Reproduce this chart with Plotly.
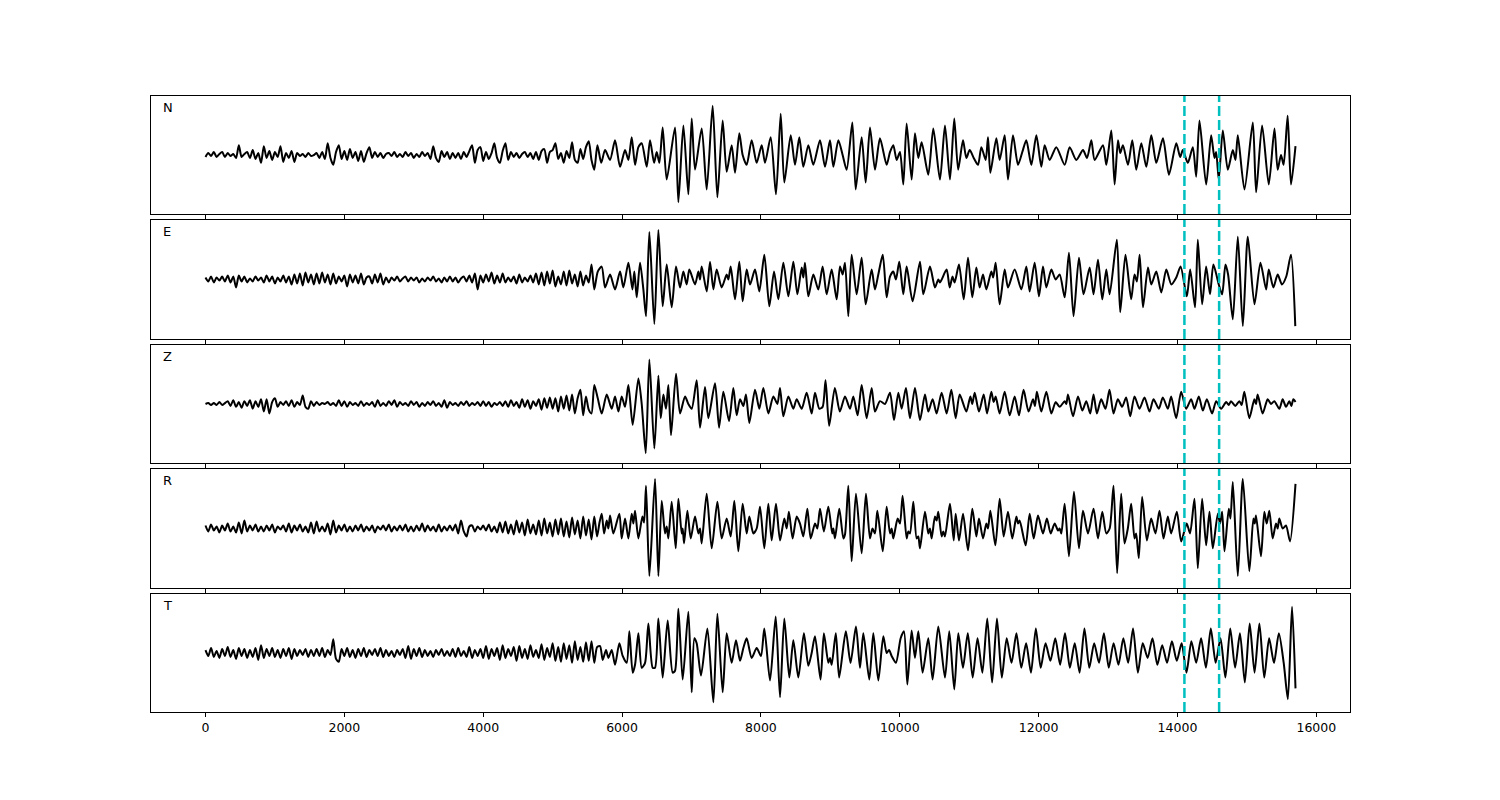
import numpy as np
import plotly.graph_objects as go

# ---------------- data ----------------
QUIET_DT = 40          # sample step of the quiet pre-event part
PICKS = [14100, 14600] # dashed phase markers
X_TICKS = [0, 2000, 4000, 6000, 8000, 10000, 12000, 14000, 16000]
CHANNELS = ["N", "E", "Z", "R", "T"]

N_quiet = [-2, 2, -1, 3, -2, 1, 3, -2, 2, -1,
           1, -3, 10, -2, 1, 3, -3, 5, -4, 2,
           -8, 9, -3, 4, -5, 3, -2, 9, -7, 2,
           -3, 4, -7, 2, -1, 1, -2, 2, -1, 0,
           2, -3, 3, -4, 12, -3, -10, 3, 10, -4,
           4, -5, 6, -3, 3, -6, 4, -7, 2, 8,
           -3, 3, -2, 2, -3, 1, 2, -1, 3, -2,
           1, -2, 3, -1, 2, -3, 1, -2, 3, -1,
           2, -4, 9, -3, -7, 4, -2, 3, -4, 2,
           -3, 2, -4, 3, -2, 4, 10, -8, 5, 8,
           -6, 3, -4, 2, 12, -3, -8, 4, 12, -5,
           3, -2, 2, -3, 1, 3, -2, 2, -4, 3,
           -5, 4, 6, -8, 3, 5, 12, -4, 2, -8,
           4, -3, 13, -5, -8, 6, -4, 8, 14, -5, -15]
N_t = [5645, 5700,
       5755, 5827, 5899, 5971, 6043, 6091, 6139, 6187, 6235, 6283,
       6355, 6403, 6461, 6499, 6537, 6585, 6643, 6763, 6811, 6883,
       6955, 7003, 7051, 7147, 7219, 7305, 7373, 7449, 7507, 7579,
       7627, 7689, 7737, 7795, 7867, 7939, 8011, 8059, 8141, 8217,
       8285, 8337, 8429, 8491, 8553, 8611, 8683, 8755, 8851, 8923,
       8995, 9043, 9115, 9177, 9235, 9317, 9365, 9451, 9509, 9571,
       9643, 9715, 9811, 9859, 9907, 9955, 10003, 10051, 10099, 10171,
       10219, 10267, 10315, 10411, 10483, 10579, 10651, 10723, 10785, 10841,
       10911, 10959, 11007, 11065, 11127, 11175, 11237, 11271, 11305, 11391,
       11439, 11511, 11559, 11631, 11703, 11765, 11823, 11895, 11967, 12039,
       12087, 12159, 12255, 12375, 12447, 12543, 12639, 12697, 12759, 12807,
       12927, 12975, 13047, 13095, 13143, 13175, 13215, 13287, 13349, 13407,
       13479, 13551, 13623, 13695, 13791, 13877, 13983, 14039, 14077, 14149,
       14221, 14269, 14317, 14413, 14485, 14533, 14557, 14595, 14653, 14725,
       14797, 14835, 14869, 14965, 15085, 15133, 15219, 15315, 15397, 15443,
       15491, 15529, 15587, 15635, 15700]
N_v = [10, -8,
       5, -5, 15, -12, 5, -5, 18, -10, 8, 12,
       -12, 15, -8, 3, -8, 28, -25, 28, -48, 30,
       -40, 37, -15, 27, -35, 50, -43, 35, -17, 10,
       -18, 22, 0, -10, 15, -8, 10, -8, 18, -40,
       42, -28, 20, -10, 18, -12, 10, -10, 15, -12,
       15, -12, 15, 0, -15, 33, -35, 18, -28, 28,
       -15, 17, -10, 3, 10, -5, 3, -30, 32, -25,
       22, -3, 13, -20, 27, -25, 30, -25, 37, -15,
       15, -3, 5, -3, -10, 8, -5, 18, -18, 17,
       -5, 20, -25, 20, -10, 3, 15, -10, 20, -12,
       10, -5, 8, -10, 8, -5, 5, -3, 15, -5,
       10, -10, 25, -30, 15, 2, 10, -10, 15, -15,
       12, -12, 20, -8, 17, -20, 12, -2, 5, -8,
       8, -22, 35, -30, 20, -3, 3, -25, 25, -15,
       5, -5, 20, -35, 33, -38, 30, -30, 27, -15,
       0, -10, 40, -30, 9]

E_quiet = [2, -2, 3, -3, 2, -1, 3, -2, 4, -3,
           3, -8, 4, -2, 3, -3, 1, -2, 3, -1,
           2, -3, 4, -2, 3, -4, 2, -2, 4, -3,
           3, -5, 5, -4, 6, -6, 7, -3, 5, -5,
           6, -4, 7, -3, 5, -5, 6, -4, 3, -2,
           4, -7, 5, -3, 4, -4, 6, -5, 2, 3,
           -4, 5, -3, 6, -5, 2, -3, 2, -1, 3,
           -2, 1, 3, -2, 2, -1, 2, -3, 1, -2,
           2, -1, 3, -2, 1, -3, 2, -2, 3, -2,
           2, -3, 1, 3, -2, 4, -3, 6, -10, 4,
           -3, 5, -2, 7, -4, 4, -3, 6, -3, 2,
           -2, 3, -4, 5, -3, 2, -2, 4, -3, 6,
           -5, 7, -6, 8, -4, 9, -7, 3, -5, 8,
           -6, 9, -4, 5, -7, 8, -6, 4, -3, 15, -10]
E_t = [5650,
       5707, 5755, 5827, 5899, 5971, 6019, 6091, 6149, 6177, 6211,
       6259, 6307, 6345, 6393, 6465, 6523, 6585, 6643, 6715, 6777,
       6835, 6883, 6931, 6969, 7051, 7099, 7123, 7147, 7219, 7267,
       7315, 7363, 7435, 7507, 7531, 7565, 7627, 7689, 7737, 7795,
       7843, 7915, 7977, 8049, 8121, 8189, 8251, 8323, 8395, 8467,
       8525, 8587, 8611, 8635, 8683, 8755, 8827, 8889, 8947, 9019,
       9091, 9139, 9177, 9211, 9259, 9307, 9379, 9451, 9509, 9595,
       9643, 9691, 9755, 9811, 9859, 9907, 9945, 9993, 10051, 10099,
       10185, 10291, 10339, 10435, 10507, 10555, 10579, 10675, 10719, 10760,
       10790, 10853, 10921, 10983, 11045, 11103, 11151, 11199, 11247, 11319,
       11345, 11381, 11439, 11511, 11559, 11655, 11751, 11823, 11871, 11943,
       12005, 12063, 12111, 12183, 12245, 12303, 12375, 12437, 12503, 12581,
       12647, 12735, 12791, 12855, 12917, 12975, 13023, 13127, 13175, 13251,
       13333, 13381, 13415, 13455, 13503, 13575, 13623, 13695, 13767, 13839,
       13911, 13983, 14045, 14135, 14183, 14253, 14293, 14355, 14413, 14469,
       14517, 14595, 14643, 14691, 14729, 14797, 14869, 14941, 15013, 15109,
       15195, 15277, 15315, 15381, 15443, 15505, 15567, 15635, 15697]
E_v = [8,
       13, -8, 5, -10, 8, -8, 17, -10, 8, -18,
       17, -10, -37, 48, -45, 50, -27, 15, -28, 13,
       -8, 8, -5, 10, -5, 8, 0, 13, -12, 18,
       -10, 10, -8, 5, 0, 13, -20, 18, -22, 10,
       -5, 10, -12, 25, -27, 8, -20, 17, -17, 18,
       -15, 12, 2, 17, -17, 5, -10, 13, -15, 10,
       -20, 13, 5, 17, -37, 25, -15, 22, -25, 10,
       -10, 5, 25, -18, 3, 8, 0, 18, -15, 13,
       -22, 18, -15, 13, -8, 0, -3, 10, -8, 3,
       -3, 15, -20, 22, -18, 12, -8, 5, -10, 8,
       2, 17, -25, 10, -8, 10, -10, 13, -12, 17,
       -17, 13, -8, 10, 0, 5, -18, 27, -37, 22,
       -15, 12, -15, 20, -20, 10, -15, 40, -33, 25,
       -20, 5, -2, 25, -28, 12, -5, 8, -13, 10,
       -5, 2, 13, -17, 10, -28, 40, -25, 13, -15,
       15, -5, -15, 15, 5, -40, 43, -47, 43, -25,
       17, -10, 10, -8, 5, -5, 3, 25, -47]

Z_quiet = [0, 1, -1, 1, -1, 2, -1, 1, 3, -2,
           4, -3, 2, -4, 3, -2, 4, -5, 3, -3,
           5, -8, 5, -10, 2, 6, -3, 2, -1, 3,
           -2, 4, -3, 2, -1, 9, -3, -5, 3, -2,
           2, -1, 1, 0, 2, -1, 1, -2, 4, -2,
           3, -3, 2, -1, 1, -2, 3, -2, 1, -1,
           2, -3, 4, -2, 1, -2, 3, -1, 4, -3,
           2, -1, 1, -2, 3, -1, 2, -3, 1, -2,
           2, -1, 3, -2, 1, -3, 4, -4, 2, -1,
           1, -2, 2, -1, 3, -2, 1, -1, 2, -2,
           3, -2, 2, -3, 1, -1, 2, -2, 3, -3,
           4, -2, 2, -4, 5, -3, 4, -5, 3, -2,
           5, -6, 6, -4, 7, -5, 6, -8, 8, -5,
           9, -7, 10, -10, 6, 15, -12, 8, -6, -10, 20]
Z_t = [5650,
       5707, 5779, 5851, 5899, 5947, 5995, 6043, 6091, 6153, 6235,
       6283, 6341, 6393, 6465, 6523, 6557, 6595, 6633, 6667, 6705,
       6777, 6835, 6907, 6955, 7003, 7075, 7123, 7195, 7243, 7339,
       7397, 7459, 7541, 7603, 7651, 7699, 7747, 7785, 7833, 7915,
       7977, 8035, 8107, 8179, 8237, 8275, 8323, 8395, 8467, 8515,
       8587, 8659, 8731, 8779, 8841, 8889, 8931, 8983, 9065, 9137,
       9211, 9283, 9331, 9393, 9451, 9523, 9595, 9643, 9715, 9787,
       9859, 9917, 9979, 10027, 10089, 10147, 10219, 10291, 10363, 10411,
       10473, 10531, 10603, 10675, 10743, 10805, 10863, 10959, 11017, 11045,
       11079, 11141, 11209, 11257, 11319, 11352, 11381, 11439, 11511, 11583,
       11655, 11717, 11783, 11855, 11919, 11947, 11975, 12039, 12111, 12183,
       12245, 12303, 12375, 12399, 12423, 12495, 12567, 12629, 12687, 12743,
       12791, 12839, 12901, 12963, 13021, 13079, 13141, 13203, 13261, 13319,
       13381, 13453, 13525, 13597, 13655, 13731, 13789, 13861, 13909, 13981,
       14053, 14125, 14197, 14245, 14307, 14365, 14423, 14499, 14557, 14629,
       14701, 14739, 14771, 14833, 14891, 14925, 14963, 15035, 15107, 15131,
       15155, 15227, 15299, 15347, 15395, 15467, 15515, 15563, 15611, 15640,
       15669, 15700]
Z_v = [6,
       -10, 10, -5, 8, -8, 8, -3, 20, -22, 27,
       0, -52, 47, -47, 30, -15, 10, -5, 20, -33,
       32, -10, 8, 0, -5, 25, -25, 18, -15, 22,
       -25, 13, -18, 17, -12, 5, -2, 10, -20, 15,
       -5, 17, -10, 8, 0, 17, -13, 8, -5, 5,
       -5, 12, -10, 12, -5, -3, 25, -23, 17, -8,
       8, -5, 8, -12, 20, -15, 17, -8, 3, 0,
       12, -17, 12, -5, 17, -15, 17, -17, 10, -8,
       5, -10, 12, -10, 15, -15, 10, -8, 8, 0,
       12, -8, 10, -10, 13, 2, 8, -10, 13, -12,
       8, -12, 15, -8, 5, -2, 13, -8, 13, -10,
       2, -3, 3, 0, 10, -13, 8, -7, 3, -10,
       10, -10, 5, -5, 15, -10, 5, -3, 7, -13,
       8, -5, 7, -8, 5, -5, 7, -5, 8, -15,
       13, -5, 5, -5, 8, -7, 5, -10, 3, -5,
       2, -1, 3, -2, 3, -1, 13, -15, 5, 0,
       10, -10, 5, 0, 3, -5, 5, -3, 3, -2,
       5, 2]

R_quiet = [3, -3, 4, -2, 2, -4, 3, -2, 5, -3,
           2, -4, 6, -5, 8, -3, 3, -2, 4, -3,
           2, -3, 3, -2, 4, -4, 2, -1, 3, -3,
           5, -4, 3, -2, 4, -3, 2, -4, 6, -5,
           7, -3, 2, -3, 5, -6, 8, -4, 3, -2,
           4, -3, 2, -3, 3, -2, 4, -3, 2, -2,
           3, -4, 2, -1, 3, -2, 4, -3, 2, -2,
           3, -2, 4, -3, 2, -3, 3, -2, 5, -3,
           3, -2, 2, -3, 4, -3, 2, -2, 3, -2,
           4, -5, 8, -3, -8, 2, 3, -3, 2, -1,
           3, -2, 4, -3, 2, -4, 6, -4, 7, -5,
           4, -6, 8, -4, 6, -7, 9, -5, 4, -6,
           8, -7, 10, -5, 6, -8, 9, -6, 10, -8,
           7, -9, 11, -6, 8, -10, 12, -7, 9, -11, 12]
R_t = [5640, 5675,
       5707, 5741, 5779, 5803, 5827, 5875, 5961, 5995, 6043, 6091,
       6139, 6163, 6187, 6235, 6293, 6317, 6345, 6393, 6475, 6523,
       6571, 6619, 6643, 6667, 6715, 6773, 6811, 6859, 6873, 6893,
       6941, 6989, 7051, 7099, 7123, 7147, 7219, 7291, 7373, 7435,
       7507, 7565, 7617, 7675, 7737, 7795, 7833, 7891, 7939, 7987,
       8049, 8107, 8155, 8217, 8275, 8337, 8371, 8403, 8457, 8515,
       8563, 8611, 8669, 8717, 8779, 8813, 8851, 8907, 8971, 9027,
       9043, 9067, 9129, 9187, 9211, 9259, 9307, 9369, 9451, 9513,
       9571, 9607, 9643, 9677, 9755, 9811, 9859, 9883, 9907, 9969,
       10003, 10041, 10099, 10123, 10147, 10195, 10243, 10267, 10291, 10363,
       10411, 10435, 10459, 10507, 10531, 10555, 10603, 10627, 10651, 10723,
       10777, 10805, 10853, 10911, 10983, 11045, 11103, 11141, 11199, 11247,
       11271, 11305, 11377, 11439, 11497, 11559, 11621, 11679, 11703, 11727,
       11813, 11871, 11929, 11991, 12063, 12119, 12173, 12231, 12279, 12303,
       12327, 12375, 12437, 12509, 12581, 12639, 12711, 12791, 12855, 12917,
       12975, 13023, 13079, 13131, 13189, 13237, 13285, 13333, 13381, 13405,
       13443, 13491, 13559, 13621, 13683, 13741, 13799, 13861, 13909, 13991,
       14053, 14133, 14181, 14245, 14293, 14355, 14413, 14461, 14509, 14581,
       14613, 14643, 14677, 14739, 14763, 14797, 14869, 14941, 15035, 15093,
       15113, 15131, 15203, 15251, 15285, 15323, 15371, 15419, 15443, 15467,
       15515, 15563, 15621, 15700]
R_v = [-8, 6,
       15, -5, 8, 0, 13, -5, 15, -10, 10, -10,
       15, 5, 18, -10, 12, 6, 43, -48, 50, -48,
       28, -5, 2, -10, 27, -20, 30, -5, 0, -15,
       18, -10, 12, -5, 0, -15, 35, -20, 27, -10,
       10, -8, 28, -23, 25, -5, 12, -5, 0, 22,
       -20, 25, -12, 25, -12, 10, 0, 17, -10, 12,
       5, -8, 20, -10, 5, 0, 20, -3, 22, -5,
       0, -10, 20, -10, -6, 43, -33, 35, -25, 35,
       -10, 0, -5, 18, -23, 22, -5, 0, -10, 10,
       5, 33, -10, -3, -5, 27, -10, -8, -20, 17,
       -5, 0, -10, 12, 8, 17, -8, -3, -8, 25,
       -12, 15, -12, 15, -22, 20, -8, 10, -10, 5,
       0, 18, -17, 30, -8, 17, -10, 12, 5, 8,
       -17, 15, -10, 13, -5, 10, -5, 5, -2, 0,
       -5, 25, -28, 37, -20, 18, -5, 20, -10, 17,
       -5, 0, 43, -45, 35, -15, 0, 25, -10, -5,
       -30, 32, -12, 10, -5, 18, -10, 12, -5, 17,
       -13, 5, -5, 30, -40, 30, -17, 17, -20, 15,
       5, 17, -23, 20, 10, 47, -48, 50, -43, 10,
       5, 13, -28, 17, 5, 18, -10, 5, 0, 10,
       0, 3, -13, 45]

T_quiet = [3, -3, 5, -4, 2, -5, 4, -3, 6, -4,
           3, -6, 5, -3, 4, -5, 3, -4, 5, -7,
           8, -5, 4, -3, 5, -4, 3, -5, 4, -3,
           5, -6, 4, -3, 3, -2, 4, -4, 3, -3,
           4, -3, 5, -4, 3, -2, 14, -6, -9, 4,
           -3, 5, -4, 3, -5, 4, -3, 5, -4, 3,
           -2, 4, -3, 5, -4, 3, -3, 2, -4, 3,
           -2, 4, -5, 7, -6, 4, -3, 5, -4, 3,
           -3, 2, -4, 3, -2, 4, -3, 2, -3, 4,
           -4, 5, -3, 2, -4, 6, -5, 3, -3, 4,
           -5, 7, -6, 4, -3, 5, -7, 8, -5, 4,
           -3, 6, -8, 7, -5, 4, -6, 8, -4, 3,
           -5, 9, -7, 5, -4, 10, -8, 6, -9, 10,
           -6, 8, -10, 12, -7, 6, -9, 11, -8, 12, -10]
T_t = [5640,
       5683, 5721, 5769, 5803, 5851, 5899, 5961, 6009, 6067, 6105,
       6153, 6187, 6235, 6283, 6331, 6379, 6441, 6475, 6523, 6585,
       6657, 6729, 6763, 6811, 6873, 6955, 7003, 7041, 7075, 7137,
       7229, 7315, 7373, 7449, 7507, 7579, 7641, 7699, 7747, 7795,
       7867, 7939, 8001, 8049, 8131, 8213, 8275, 8337, 8409, 8467,
       8539, 8619, 8683, 8731, 8779, 8859, 8907, 8971, 8995, 9019,
       9079, 9127, 9223, 9291, 9369, 9427, 9475, 9561, 9619, 9691,
       9763, 9811, 9845, 9883, 9945, 10013, 10061, 10109, 10171, 10219,
       10267, 10329, 10411, 10473, 10555, 10651, 10713, 10785, 10843, 10910,
       10980, 11050, 11120, 11190, 11260, 11330, 11400, 11470, 11540, 11610,
       11680, 11750, 11820, 11890, 11960, 12030, 12100, 12170, 12240, 12310,
       12380, 12450, 12520, 12590, 12660, 12730, 12800, 12870, 12940, 13010,
       13080, 13150, 13220, 13290, 13360, 13430, 13500, 13570, 13640, 13710,
       13780, 13850, 13920, 13990, 14060, 14130, 14200, 14270, 14340, 14410,
       14480, 14550, 14620, 14690, 14760, 14830, 14900, 14970, 15040, 15110,
       15180, 15250, 15320, 15390, 15460, 15530, 15590, 15650, 15700]
T_v = [6,
       7, -7, 3, -5, 3, -12, 10, -3, -10, 22,
       -20, -12, 20, -15, -10, 30, -15, -15, 35, -25,
       33, -20, -18, 45, -27, 42, -40, 15, 10, -23,
       25, -50, 40, -40, 20, -10, 13, -8, 5, 15,
       -5, 5, -3, 25, -28, 37, -45, 35, -25, 13,
       -25, 20, -13, 0, 17, -27, 20, -10, -5, -12,
       20, -25, 22, -10, 27, -15, 20, -27, 20, -28,
       17, 0, 3, -3, -10, 15, 22, -32, 23, -5,
       22, -20, 15, -27, 27, -25, 22, -37, 20, -15,
       20, -25, 15, -20, 35, -30, 35, -25, 15, -10,
       20, -15, 10, -20, 25, -15, 10, -8, 15, -12,
       20, -15, 10, -20, 25, -15, 10, -10, 20, -15,
       10, -12, 15, -10, 25, -20, 10, -5, 15, -12,
       8, -10, 12, -8, 10, -20, 12, -10, 15, -15,
       25, -10, 15, -25, 25, -15, 20, -30, 30, -20,
       30, -25, 15, -10, 20, -10, -47, 47, -36]

SERIES = {
    "N": (N_quiet, N_t, N_v),
    "E": (E_quiet, E_t, E_v),
    "Z": (Z_quiet, Z_t, Z_v),
    "R": (R_quiet, R_t, R_v),
    "T": (T_quiet, T_t, T_v),
}

# ---------------- layout ----------------
W, H = 1500, 800
ML, MR, MT, MB = 151, 150, 96, 88
# panel pixel extents (top, bottom) inside the figure
PANELS_PX = [(96, 214), (220, 339), (345, 463), (469, 588), (594, 712)]
plot_h = H - MT - MB
X_RANGE = [-785, 16485]

FONT = "DejaVu Sans"
fig = go.Figure()
layout = {}
annotations = []
shapes = []

for i, ch in enumerate(CHANNELS):
    quiet, pt, pv = SERIES[ch]
    n = min(len(pt), len(pv))
    t = np.concatenate([np.arange(len(quiet)) * QUIET_DT, np.array(pt[:n], float)])
    v = np.concatenate([np.array(quiet, float), np.array(pv[:n], float)])
    order = np.argsort(t, kind="stable")
    t, v = t[order], v[order]

    k = i + 1
    xname = "x" if k == 1 else f"x{k}"
    yname = "y" if k == 1 else f"y{k}"
    xkey = "xaxis" if k == 1 else f"xaxis{k}"
    ykey = "yaxis" if k == 1 else f"yaxis{k}"

    fig.add_trace(go.Scatter(
        x=t, y=v, mode="lines", xaxis=xname, yaxis=yname,
        line=dict(color="black", width=2, shape="spline", smoothing=0.7),
        showlegend=False, hoverinfo="skip"))

    top, bot = PANELS_PX[i]
    dom = [(H - MB - bot) / plot_h, (H - MB - top) / plot_h]
    amp = float(np.abs(v).max())

    xa = dict(domain=[0, 1], anchor=yname, range=X_RANGE,
              tickmode="array", tickvals=X_TICKS,
              ticktext=[str(x) for x in X_TICKS],
              showticklabels=(k == len(CHANNELS)),
              ticks="outside", ticklen=4, tickwidth=1, tickcolor="black",
              showline=True, linecolor="black", linewidth=1, mirror=True,
              showgrid=False, zeroline=False,
              tickfont=dict(family=FONT, size=12.5, color="black"))
    if k > 1:
        xa["matches"] = "x"
    layout[xkey] = xa
    layout[ykey] = dict(domain=dom, anchor=xname, range=[-1.2 * amp, 1.2 * amp],
                        showticklabels=False, ticks="", showgrid=False,
                        zeroline=False, showline=True, linecolor="black",
                        linewidth=1, mirror=True)

    annotations.append(dict(
        text=ch, xref=f"{xname} domain", yref=f"{yname} domain",
        x=0.008, y=0.9, xanchor="left", yanchor="middle", showarrow=False,
        font=dict(family=FONT, size=13, color="black")))

    for p in PICKS:
        shapes.append(dict(
            type="line", xref=xname, yref=f"{yname} domain",
            x0=p, x1=p, y0=0, y1=1, layer="above",
            line=dict(color="#00BFBF", width=2.5, dash="10px,4px")))

fig.update_layout(
    width=W, height=H,
    margin=dict(l=ML, r=MR, t=MT, b=MB),
    paper_bgcolor="white", plot_bgcolor="white",
    annotations=annotations, shapes=shapes,
    **layout)

fig.write_html("out.html", config={"displayModeBar": False},
               post_script="document.body.style.margin='0px';")
